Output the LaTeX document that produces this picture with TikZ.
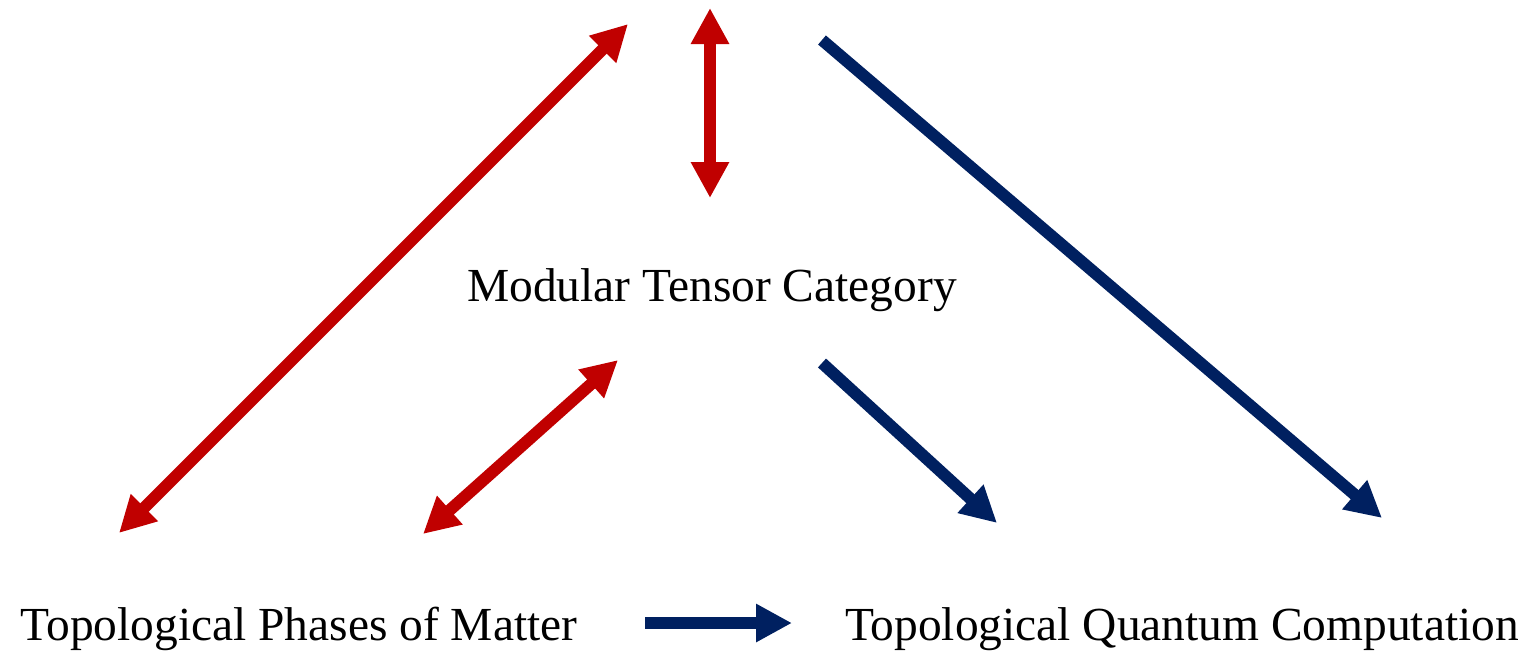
\documentclass[tikz,border=0pt]{standalone}
\usepackage{fontspec}
\setmainfont{Liberation Serif}
\usepackage{tikz}
\usetikzlibrary{arrows.meta,positioning}
\definecolor{mtcred}{RGB}{192,0,0}
\definecolor{mtcblue}{RGB}{0,32,96}

\begin{document}
\begin{tikzpicture}[x=0.02cm,y=0.02cm]
                \tikzstyle{every node}+=[inner sep=0pt]
                \tikzstyle{label}=[font=\fontsize{27}{32}\selectfont]
                \tikzstyle{redarrow}=[mtcred, line width=6.8pt, {Triangle[width=0.72cm,length=0.72cm]}-{Triangle[width=0.72cm,length=0.72cm]}]
                \tikzstyle{bluearrow}=[mtcblue, line width=6.8pt, -{Triangle[width=0.72cm,length=0.72cm]}]
                \useasboundingbox (0,0) rectangle (1535,-654);
                % texts
                \node [label] (mtc) at (712,-290) {Modular Tensor Category};
                \node [label] (tpm) at (299,-629) {Topological Phases of Matter};
                \node [label] (tqc) at (1182,-629) {Topological Quantum Computation};
                % arrow ends
                \coordinate (r1a) at (119,-533);
                \coordinate (r1b) at (628,-24);
                \coordinate (r2a) at (710,-8);
                \coordinate (r2b) at (710,-198);
                \coordinate (r3a) at (423,-534);
                \coordinate (r3b) at (618,-360);
                \coordinate (b1a) at (822,-40);
                \coordinate (b1b) at (1382,-518);
                \coordinate (b2a) at (822,-363);
                \coordinate (b2b) at (997,-523);
                \coordinate (b3a) at (645,-623);
                \coordinate (b3b) at (792,-623);
                % arrows
                \draw [redarrow] (r1a) -- (r1b);
                \draw [redarrow] (r2a) -- (r2b);
                \draw [redarrow] (r3a) -- (r3b);
                \draw [bluearrow] (b1a) -- (b1b);
                \draw [bluearrow] (b2a) -- (b2b);
                \draw [bluearrow] (b3a) -- (b3b);
\end{tikzpicture}
\end{document}
